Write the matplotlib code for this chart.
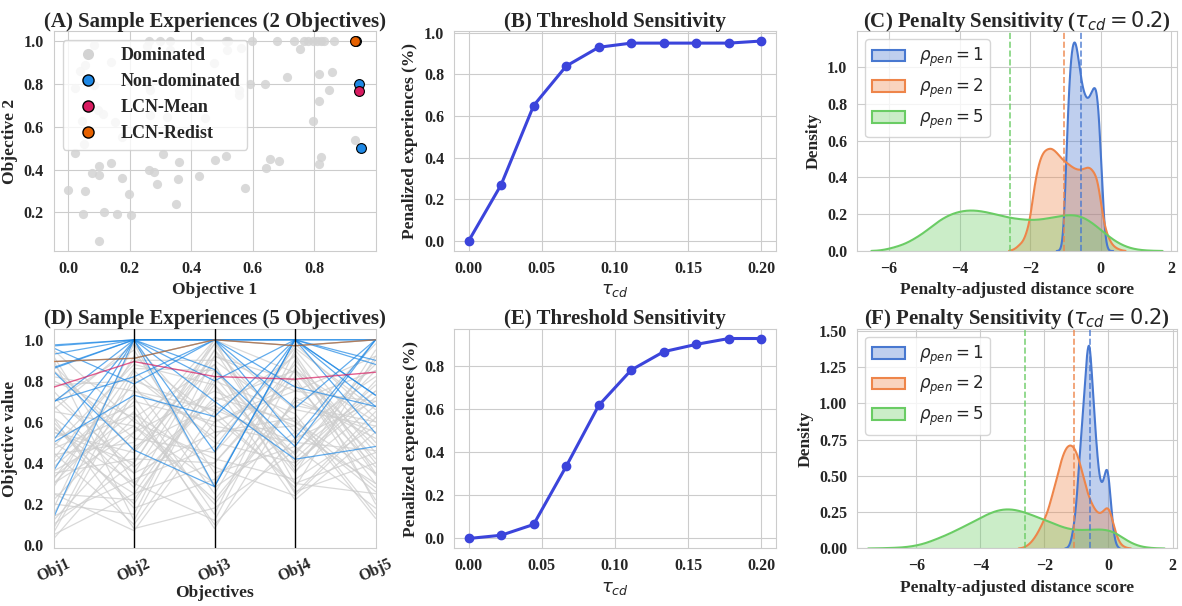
import numpy as np
import matplotlib
matplotlib.use("Agg")
import matplotlib.pyplot as plt
import seaborn as sns
from matplotlib.patches import Patch
from matplotlib.lines import Line2D

# ---------------------------------------------------------------- data
# (A) two-objective sample experiences
dom_x = [0.0, 0.047, 0.054, 0.022, 0.052, 0.076, 0.10, 0.10, 0.139, 0.118,
         0.099, 0.158, 0.176, 0.199, 0.205, 0.264, 0.28, 0.288, 0.308, 0.359,
         0.356, 0.352, 0.424, 0.479, 0.514, 0.575, 0.645, 0.656, 0.686, 0.933,
         0.822, 0.816, 0.797, 0.816, 0.816, 0.849, 0.858, 0.713, 0.64, 0.591,
         0.555, 0.555, 0.473, 0.517, 0.561, 0.754,
         0.264, 0.30, 0.332, 0.425, 0.512, 0.52, 0.597, 0.68, 0.735, 0.767,
         0.78, 0.795, 0.81, 0.822, 0.833, 0.863,
         0.085, 0.139, 0.038, 0.055, 0.022, 0.085, 0.098, 0.114, 0.152, 0.045,
         0.174, 0.262, 0.267, 0.267, 0.321, 0.446, 0.256, 0.332]
dom_y = [0.304, 0.195, 0.30, 0.479, 0.52, 0.386, 0.417, 0.375, 0.43, 0.20,
         0.067, 0.195, 0.362, 0.284, 0.188, 0.40, 0.39, 0.331, 0.473, 0.437,
         0.354, 0.239, 0.372, 0.446, 0.463, 0.313, 0.406, 0.448, 0.44, 0.538,
         0.457, 0.426, 0.629, 0.72, 0.845, 0.772, 0.857, 0.834, 0.798, 0.80,
         0.772, 0.749, 0.897, 0.96, 0.967, 0.963,
         1.0, 1.0, 1.0, 1.0, 1.0, 1.0, 1.0, 1.0, 1.0, 1.0,
         1.0, 1.0, 1.0, 1.0, 1.0, 1.0,
         0.983, 0.90, 0.858, 0.889, 0.78, 0.796, 0.679, 0.658, 0.624, 0.625,
         0.554, 0.79, 0.772, 0.655, 0.645, 0.641, 0.975, 0.96]
nd_x = [0.936, 0.947, 0.952]
nd_y = [1.0, 0.80, 0.50]
mean_pt = (0.945, 0.765)
redist_pt = (0.934, 1.0)

# (B) / (E) threshold sweep
tau = [0.0, 0.0222, 0.0444, 0.0667, 0.0889, 0.1111, 0.1333, 0.1556, 0.1778, 0.2]
pen_2obj = [0.0, 0.27, 0.65, 0.84, 0.93, 0.95, 0.95, 0.95, 0.95, 0.96]
pen_5obj = [0.0, 0.015, 0.065, 0.335, 0.617, 0.781, 0.866, 0.900, 0.927, 0.927]

# (D) five-objective sample experiences
objectives = ["Obj1", "Obj2", "Obj3", "Obj4", "Obj5"]
dominated_5 = [
    [0.62, 0.35, 0.95, 0.55, 0.30], [0.05, 0.25, 0.40, 0.85, 0.60],
    [0.30, 0.55, 1.00, 0.30, 0.45], [0.45, 0.10, 0.65, 0.92, 0.20],
    [0.80, 0.62, 0.20, 0.70, 0.85], [0.15, 0.85, 0.50, 0.40, 0.75],
    [0.55, 0.45, 0.88, 0.25, 0.65], [0.92, 0.30, 0.72, 0.60, 0.35],
    [0.38, 0.72, 0.15, 0.95, 0.50], [0.25, 0.07, 0.60, 0.75, 0.92],
    [0.70, 0.95, 0.35, 0.48, 0.18], [0.10, 0.40, 0.98, 0.66, 0.58],
    [0.58, 0.20, 0.82, 0.35, 0.95], [0.85, 0.52, 0.45, 0.88, 0.40],
    [0.33, 0.65, 0.10, 0.52, 0.70], [0.48, 0.88, 0.78, 0.22, 0.55],
    [0.20, 0.15, 0.92, 0.80, 0.30], [0.65, 0.58, 0.30, 0.98, 0.62],
    [0.03, 0.48, 0.68, 0.45, 0.85], [0.75, 0.35, 0.55, 0.62, 0.13],
    [0.40, 0.78, 0.25, 0.90, 0.45], [0.90, 0.12, 0.85, 0.42, 0.78],
    [0.28, 0.92, 0.62, 0.30, 0.25], [0.52, 0.68, 0.08, 0.72, 0.52],
    [0.12, 0.55, 0.75, 0.58, 0.98], [0.68, 0.28, 0.95, 0.36, 0.68],
    [0.35, 0.42, 0.40, 0.82, 0.22], [0.82, 0.75, 0.58, 0.50, 0.88],
    [0.22, 0.62, 0.88, 0.26, 0.40], [0.60, 0.18, 0.32, 0.68, 0.60],
    [0.08, 0.82, 0.52, 0.93, 0.35], [0.44, 0.50, 0.98, 0.40, 0.72],
    [0.72, 0.38, 0.70, 0.85, 0.48], [0.18, 0.98, 0.28, 0.55, 0.82],
    [0.50, 0.25, 0.80, 0.64, 0.15], [0.95, 0.60, 0.42, 0.32, 0.58],
    [0.30, 0.70, 0.60, 0.78, 0.38], [0.62, 0.08, 0.18, 0.46, 0.75],
    [0.42, 0.90, 0.90, 0.60, 0.28], [0.14, 0.32, 0.48, 0.96, 0.66],
    [0.78, 0.80, 0.65, 0.28, 0.92], [0.36, 0.58, 0.22, 0.70, 0.55],
    [0.55, 0.40, 1.00, 0.84, 0.42], [0.25, 0.22, 0.78, 0.38, 0.80],
    [0.66, 0.98, 0.55, 0.58, 0.26], [0.47, 0.64, 0.38, 0.24, 0.62],
    [0.88, 0.46, 0.92, 0.75, 0.70], [0.06, 0.75, 0.66, 0.50, 0.46],
    [0.57, 0.30, 0.12, 0.86, 0.34], [0.32, 0.86, 0.85, 0.44, 0.90],
]
nondominated_5 = [
    [0.975, 1.0, 1.0, 1.0, 1.0], [0.96, 0.785, 1.0, 1.0, 0.73],
    [0.865, 1.0, 0.455, 1.0, 0.675], [0.846, 0.463, 0.285, 1.0, 0.545],
    [0.696, 1.0, 1.0, 0.52, 1.0], [0.512, 1.0, 0.70, 0.418, 0.48],
    [0.361, 1.0, 0.285, 1.0, 0.90], [0.133, 1.0, 1.0, 0.667, 1.0],
    [0.93, 1.0, 0.855, 0.48, 1.0], [0.70, 0.82, 1.0, 1.0, 0.73],
    [0.50, 0.73, 0.626, 1.0, 1.0], [0.97, 1.0, 1.0, 0.77, 0.675],
    [0.86, 1.0, 0.80, 1.0, 0.88], [0.894, 0.91, 1.0, 0.971, 1.0],
]
mean_5 = [0.769, 0.894, 0.821, 0.808, 0.842]
redist_5 = [0.894, 0.91, 1.0, 0.971, 1.0]

# (C) / (F) penalty-adjusted distance scores, binned densities per rho_pen
rho_vals = [1, 2, 5]
c_start = [-1.25, -2.6, -6.5]
c_step = [0.05, 0.1, 0.25]
c_dens = [
    [0.0, 0.0, 0.005, 0.03, 0.13, 0.36, 0.66, 0.88, 1.04, 1.12, 1.15, 1.13,
     1.07, 1.0, 0.93, 0.88, 0.85, 0.83, 0.83, 0.845, 0.87, 0.89, 0.895, 0.85,
     0.73, 0.53, 0.32, 0.14, 0.045, 0.01, 0.0, 0.0, 0.0],
    [0.0, 0.005, 0.015, 0.035, 0.05, 0.10, 0.17, 0.33, 0.44, 0.51, 0.545,
     0.555, 0.56, 0.545, 0.525, 0.50, 0.485, 0.47, 0.455, 0.445, 0.44, 0.445,
     0.455, 0.455, 0.43, 0.40, 0.27, 0.14, 0.08, 0.04, 0.02, 0.01, 0.003, 0.0],
    [0.0, 0.002, 0.012, 0.025, 0.042, 0.07, 0.10, 0.14, 0.175, 0.20, 0.215,
     0.222, 0.22, 0.212, 0.20, 0.188, 0.178, 0.172, 0.168, 0.17, 0.177, 0.187,
     0.195, 0.197, 0.185, 0.155, 0.115, 0.075, 0.042, 0.02, 0.008, 0.003,
     0.001, 0.0],
]
c_median = [-0.56, -1.03, -2.57]

f_start = [-1.35, -2.8, -7.5]
f_step = [0.05, 0.1, 0.25]
f_dens = [
    [0.0, 0.002, 0.01, 0.03, 0.07, 0.13, 0.21, 0.31, 0.48, 0.63, 0.78, 0.93,
     1.10, 1.26, 1.39, 1.44, 1.33, 1.13, 0.95, 0.80, 0.65, 0.53, 0.46, 0.445,
     0.47, 0.53, 0.565, 0.52, 0.39, 0.25, 0.14, 0.06, 0.025, 0.008, 0.0],
    [0.0, 0.003, 0.01, 0.025, 0.045, 0.075, 0.11, 0.155, 0.2, 0.25, 0.33,
     0.41, 0.49, 0.585, 0.655, 0.70, 0.715, 0.705, 0.665, 0.595, 0.51, 0.42,
     0.35, 0.30, 0.26, 0.24, 0.245, 0.275, 0.29, 0.22, 0.13, 0.06, 0.025,
     0.01, 0.003, 0.0],
    [0.0, 0.001, 0.002, 0.004, 0.006, 0.011, 0.02, 0.033, 0.053, 0.075, 0.098,
     0.125, 0.152, 0.18, 0.21, 0.238, 0.26, 0.271, 0.27, 0.258, 0.24, 0.218,
     0.198, 0.175, 0.152, 0.135, 0.127, 0.127, 0.13, 0.132, 0.127, 0.105,
     0.065, 0.033, 0.013, 0.005, 0.001, 0.0],
]
f_median = [-0.57, -1.07, -2.61]
kde_bw = [0.04, 0.07, 0.18]

# ---------------------------------------------------------------- style
sns.set_style("whitegrid")
plt.rcParams["font.family"] = ["Liberation Serif", "DejaVu Sans"]
plt.rcParams["font.weight"] = "bold"
plt.rcParams["axes.titleweight"] = "bold"
plt.rcParams["axes.labelweight"] = "bold"
plt.rcParams["axes.titlesize"] = 15
plt.rcParams["axes.labelsize"] = 12.5
plt.rcParams["xtick.labelsize"] = 11.5
plt.rcParams["ytick.labelsize"] = 11.5
# math symbols stay in regular DejaVu Sans even though the text is bold
plt.rcParams["mathtext.fontset"] = "custom"
plt.rcParams["mathtext.rm"] = "DejaVu Sans:weight=normal"
plt.rcParams["mathtext.sf"] = "DejaVu Sans:weight=normal"
plt.rcParams["mathtext.it"] = "DejaVu Sans:style=italic:weight=normal"
plt.rcParams["mathtext.bf"] = "DejaVu Sans:weight=bold"

GREY = "#d3d3d3"
ND_BLUE = "#1E88E5"
MEAN_RED = "#D81B60"
REDIST_ORANGE = "#E66100"
LINE_BLUE = "#3b44db"
muted = sns.color_palette("muted")
rho_colors = [muted[0], muted[1], muted[2]]

fig = plt.figure(figsize=(11.82, 6.06), dpi=100)
W, H = 0.2724, 0.363
ax_a = fig.add_axes([0.0453, 0.5858, W, H])
ax_b = fig.add_axes([0.3841, 0.5858, W, H])
ax_c = fig.add_axes([0.7250, 0.5858, 0.2708, H])
ax_d = fig.add_axes([0.0453, 0.0949, W, H])
ax_e = fig.add_axes([0.3841, 0.0949, W, H])
ax_f = fig.add_axes([0.7250, 0.0949, 0.2708, H])


def smooth_density(start, step, dens, bw):
    centers = start + step * np.arange(len(dens))
    weights = np.asarray(dens) * step
    grid = np.linspace(centers[0], centers[-1], 600)
    z = (grid[:, None] - centers[None, :]) / bw
    y = (np.exp(-0.5 * z ** 2) / (bw * np.sqrt(2 * np.pi))) @ weights
    return grid, y


# (A) scatter of the 2-objective front
ax_a.scatter(dom_x, dom_y, s=44, color=GREY, alpha=0.85, linewidths=0, zorder=2)
ax_a.scatter(nd_x, nd_y, s=50, color=ND_BLUE, edgecolors="black", linewidths=0.8, zorder=3)
ax_a.scatter([mean_pt[0]], [mean_pt[1]], s=50, color=MEAN_RED, edgecolors="black",
             linewidths=0.8, zorder=4)
ax_a.scatter([redist_pt[0]], [redist_pt[1]], s=50, color=REDIST_ORANGE, edgecolors="black",
             linewidths=0.8, zorder=5)
handles_a = [
    Line2D([], [], marker="o", ls="", color=GREY, markersize=8, markeredgewidth=0),
    Line2D([], [], marker="o", ls="", markerfacecolor=ND_BLUE, markeredgecolor="black", markersize=8),
    Line2D([], [], marker="o", ls="", markerfacecolor=MEAN_RED, markeredgecolor="black", markersize=8),
    Line2D([], [], marker="o", ls="", markerfacecolor=REDIST_ORANGE, markeredgecolor="black", markersize=8),
]
ax_a.legend(handles_a, ["Dominated", "Non-dominated", "LCN-Mean", "LCN-Redist"],
            loc="upper left", fontsize=13, framealpha=0.8, labelspacing=0.5)
ax_a.set_xticks([0.0, 0.2, 0.4, 0.6, 0.8])
ax_a.set_yticks([0.2, 0.4, 0.6, 0.8, 1.0])
ax_a.set_xlabel("Objective 1")
ax_a.set_ylabel("Objective 2")
ax_a.set_title("(A) Sample Experiences (2 Objectives)", pad=3)

# (B) / (E) threshold sensitivity
for ax, vals, title in [(ax_b, pen_2obj, "(B) Threshold Sensitivity"),
                        (ax_e, pen_5obj, "(E) Threshold Sensitivity")]:
    ax.plot(tau, vals, marker="o", color=LINE_BLUE, lw=2.2, markersize=6)
    ax.set_xticks([0.0, 0.05, 0.10, 0.15, 0.20])
    ax.set_xticklabels(["0.00", "0.05", "0.10", "0.15", "0.20"])
    ax.set_xlabel(r"$\tau_{cd}$", fontsize=13)
    ax.set_ylabel("Penalized experiences (%)")
    ax.set_title(title, pad=3)

# (C) / (F) penalty sensitivity densities
for ax, starts, steps, dens, medians, xlim, title in [
        (ax_c, c_start, c_step, c_dens, c_median, (-6.91, 2.16),
         r"(C) Penalty Sensitivity ($\tau_{cd} = 0.2$)"),
        (ax_f, f_start, f_step, f_dens, f_median, (-7.85, 2.14),
         r"(F) Penalty Sensitivity ($\tau_{cd} = 0.2$)")]:
    handles = []
    for i, rho in enumerate(rho_vals):
        gx, gy = smooth_density(starts[i], steps[i], dens[i], kde_bw[i])
        col = rho_colors[i]
        ax.fill_between(gx, gy, color=col, alpha=0.35, lw=0)
        ax.plot(gx, gy, color=col, lw=1.5)
        handles.append(Patch(facecolor=(*col, 0.35), edgecolor=col, lw=1.5))
    for i, m in enumerate(medians):
        ax.axvline(m, color=rho_colors[i], ls="--", lw=1.2, alpha=0.85)
    ax.set_xlim(*xlim)
    ax.set_xticks([-6, -4, -2, 0, 2])
    ax.set_xticklabels(["\u22126", "\u22124", "\u22122", "0", "2"])
    ax.legend(handles, [rf"$\rho_{{pen}} = {r}$" for r in rho_vals],
              loc="upper left", fontsize=12, framealpha=0.8, labelspacing=0.45)
    ax.set_xlabel("Penalty-adjusted distance score")
    ax.set_ylabel("Density")
    ax.set_title(title, pad=3)
ax_c.set_yticks([0.0, 0.2, 0.4, 0.6, 0.8, 1.0])
ax_c.set_ylim(0, 1.197)
ax_f.set_yticks([0.0, 0.25, 0.5, 0.75, 1.0, 1.25, 1.5])
ax_f.set_yticklabels(["0.00", "0.25", "0.50", "0.75", "1.00", "1.25", "1.50"])
ax_f.set_ylim(0, 1.515)

# (D) parallel coordinates of the 5-objective sample
xs = np.arange(len(objectives))
for row in dominated_5:
    ax_d.plot(xs, row, color="#cdcdcd", lw=0.9, alpha=0.75, zorder=1)
for row in nondominated_5:
    ax_d.plot(xs, row, color=ND_BLUE, lw=0.9, alpha=0.7, zorder=2)
ax_d.plot(xs, mean_5, color=MEAN_RED, lw=1.0, alpha=0.7, zorder=3)
ax_d.plot(xs, redist_5, color=REDIST_ORANGE, lw=1.0, alpha=0.6, zorder=3)
for i in xs[1:-1]:
    ax_d.axvline(i, color="black", lw=1.0, zorder=4)
ax_d.grid(False)
ax_d.set_xlim(0, 4)
ax_d.set_ylim(-0.017, 1.055)
ax_d.set_xticks(xs)
ax_d.set_xticklabels(objectives, rotation=25)
ax_d.tick_params(axis="x", pad=2)
ax_d.set_yticks([0.0, 0.2, 0.4, 0.6, 0.8, 1.0])
ax_d.set_xlabel("Objectives", labelpad=0)
ax_d.set_ylabel("Objective value")
ax_d.set_title("(D) Sample Experiences (5 Objectives)", pad=3)

fig.savefig("out.png", dpi=100)
